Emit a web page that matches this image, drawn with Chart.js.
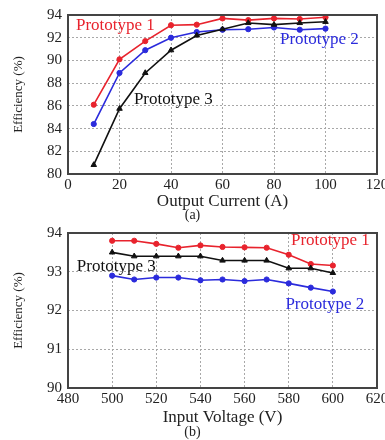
<!DOCTYPE html>
<html>
<head>
<meta charset="utf-8">
<script src="https://cdn.jsdelivr.net/npm/chart.js@4"></script>
<style>
    body { margin: 0; background: #fff; }
    #wrap { position: relative; width: 385px; height: 440px; overflow: hidden; }
    canvas { position: absolute; left: 0; }
    .cap { position: absolute; left: 0; width: 385px; text-align: center;
           font: 14px "Liberation Serif", serif; color: #222; }
</style>
</head>
<body>
<div id="wrap">
    <canvas id="chartA" width="385" height="212" style="top:0"></canvas>
    <div class="cap" style="top:207px">(a)</div>
    <canvas id="chartB" width="385" height="212" style="top:218px"></canvas>
    <div class="cap" style="top:424px">(b)</div>
</div>
<script>
// (a) efficiency vs output current
const currentA = [10, 20, 30, 40, 50, 60, 70, 80, 90, 100];
const protoA1 = [86.1, 90.1, 91.7, 93.1, 93.15, 93.7, 93.55, 93.7, 93.65, 93.8];
const protoA2 = [84.4, 88.9, 90.9, 92.0, 92.5, 92.7, 92.75, 92.9, 92.7, 92.8];
const protoA3 = [80.8, 85.75, 88.9, 90.9, 92.2, 92.75, 93.3, 93.15, 93.3, 93.4];
const ticksA_x = [0, 20, 40, 60, 80, 100, 120];
const ticksA_y = [80, 82, 84, 86, 88, 90, 92, 94];

// (b) efficiency vs input voltage
const voltageB = [500, 510, 520, 530, 540, 550, 560, 570, 580, 590, 600];
const protoB1 = [93.8, 93.8, 93.72, 93.62, 93.68, 93.64, 93.63, 93.62, 93.44, 93.2, 93.16];
const protoB2 = [92.9, 92.8, 92.85, 92.85, 92.78, 92.8, 92.76, 92.8, 92.7, 92.59, 92.49];
const protoB3 = [93.5, 93.4, 93.4, 93.4, 93.4, 93.29, 93.29, 93.29, 93.09, 93.09, 92.97];
const ticksB_x = [480, 500, 520, 540, 560, 580, 600, 620];
const ticksB_y = [90, 91, 92, 93, 94];

const RED = '#e8232d';
const BLUE = '#2b2bdc';
const BLACK = '#111111';
const SERIF = '"Liberation Serif", "Times New Roman", serif';

// text labels placed in data units
const labelsA = [
    { text: 'Prototype 1', x: 3.1, y: 93.03, color: RED },
    { text: 'Prototype 2', x: 82.3, y: 91.8, color: BLUE },
    { text: 'Prototype 3', x: 25.6, y: 86.6, color: BLACK }
];
const labelsB = [
    { text: 'Prototype 1', x: 581, y: 93.8, color: RED },
    { text: 'Prototype 3', x: 484, y: 93.13, color: BLACK },
    { text: 'Prototype 2', x: 578.5, y: 92.15, color: BLUE }
];

const framePlugin = {
    id: 'frame',
    afterDatasetsDraw(chart) {
        const { ctx, chartArea: a } = chart;
        ctx.save();
        ctx.strokeStyle = '#444';
        ctx.lineWidth = 2;
        ctx.strokeRect(a.left, a.top, a.right - a.left, a.bottom - a.top);
        ctx.restore();
    }
};

const notePlugin = {
    id: 'notes',
    afterDraw(chart, args, opts) {
        const { ctx, scales } = chart;
        ctx.save();
        ctx.font = '17px ' + SERIF;
        ctx.textAlign = 'left';
        ctx.textBaseline = 'middle';
        (opts.items || []).forEach(n => {
            ctx.fillStyle = n.color;
            ctx.fillText(n.text, scales.x.getPixelForValue(n.x), scales.y.getPixelForValue(n.y));
        });
        ctx.restore();
    }
};

function series(label, xs, ys, color, style) {
    return {
        label,
        data: xs.map((x, i) => ({ x, y: ys[i] })),
        borderColor: color,
        backgroundColor: color,
        borderWidth: 1.6,
        pointStyle: style,
        pointRadius: style === 'triangle' ? 3.2 : 2.6,
        pointBorderWidth: 1,
        tension: 0
    };
}

function makeChart(id, cfg) {
    const tickFont = { family: SERIF, size: 15 };
    const grid = { color: '#a8a8a8', lineWidth: 1, drawTicks: false };
    return new Chart(document.getElementById(id), {
        type: 'line',
        data: { datasets: cfg.datasets },
        options: {
            responsive: false,
            animation: false,
            events: [],
            layout: { padding: { top: cfg.top, right: 8, left: 0, bottom: 0 } },
            plugins: {
                legend: { display: false },
                tooltip: { enabled: false },
                notes: { items: cfg.notes }
            },
            scales: {
                x: {
                    type: 'linear',
                    min: cfg.xTicks[0],
                    max: cfg.xTicks[cfg.xTicks.length - 1],
                    afterBuildTicks: s => { s.ticks = cfg.xTicks.map(v => ({ value: v })); },
                    afterFit: s => { s.height = cfg.xHeight; s.paddingLeft = 0; s.paddingRight = 0; },
                    border: { display: false, dash: [2, 2] },
                    grid: grid,
                    ticks: { font: tickFont, color: '#222', padding: 2, maxRotation: 0, autoSkip: false },
                    title: {
                        display: true, text: cfg.xTitle, color: '#222',
                        font: { family: SERIF, size: 17 }, padding: { top: 0, bottom: cfg.xTitlePad }
                    }
                },
                y: {
                    min: cfg.yTicks[0],
                    max: cfg.yTicks[cfg.yTicks.length - 1],
                    afterBuildTicks: s => { s.ticks = cfg.yTicks.map(v => ({ value: v })); },
                    afterFit: s => { s.width = 68; },
                    border: { display: false, dash: [2, 2] },
                    grid: grid,
                    ticks: { font: tickFont, color: '#222', padding: 6 },
                    title: {
                        display: true, text: 'Efficiency (%)', color: '#222',
                        font: { family: SERIF, size: 13 }, padding: { top: 11, bottom: 0 }
                    }
                }
            }
        },
        plugins: [framePlugin, notePlugin]
    });
}

makeChart('chartA', {
    datasets: [
        series('Prototype 3', currentA, protoA3, BLACK, 'triangle'),
        series('Prototype 2', currentA, protoA2, BLUE, 'circle'),
        series('Prototype 1', currentA, protoA1, RED, 'circle')
    ],
    notes: labelsA,
    xTicks: ticksA_x,
    yTicks: ticksA_y,
    xTitle: 'Output Current (A)',
    top: 15,
    xHeight: 38,
    xTitlePad: 0
});

makeChart('chartB', {
    datasets: [
        series('Prototype 3', voltageB, protoB3, BLACK, 'triangle'),
        series('Prototype 2', voltageB, protoB2, BLUE, 'circle'),
        series('Prototype 1', voltageB, protoB1, RED, 'circle')
    ],
    notes: labelsB,
    xTicks: ticksB_x,
    yTicks: ticksB_y,
    xTitle: 'Input Voltage (V)',
    top: 14,
    xHeight: 42,
    xTitlePad: 2
});
</script>
</body>
</html>
